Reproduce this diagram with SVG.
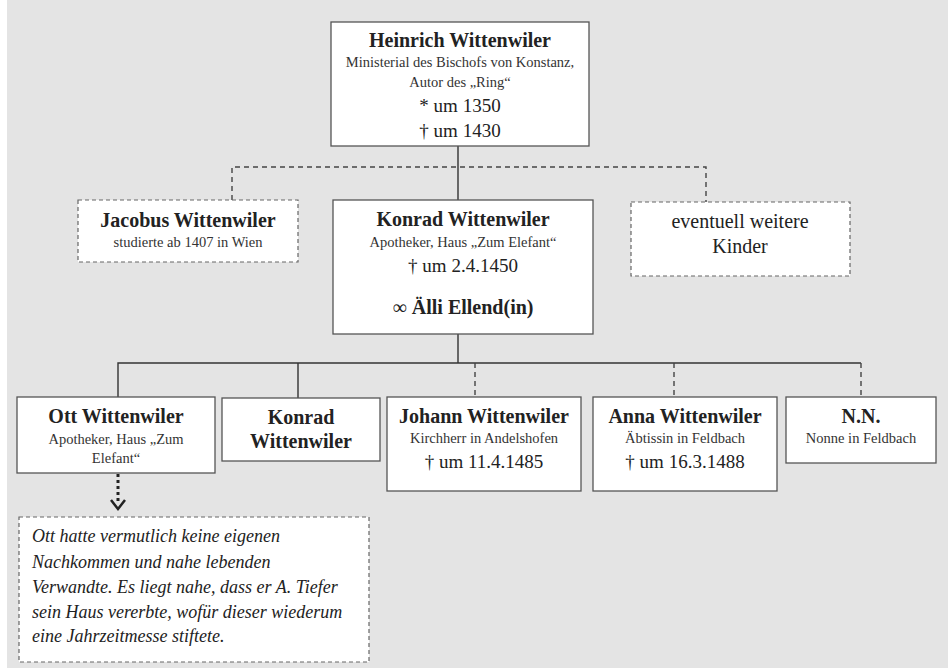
<svg xmlns="http://www.w3.org/2000/svg" width="948" height="668" viewBox="0 0 948 668">
<defs>
<style>
.box{fill:#fff;stroke:#555;stroke-width:1.3}
.dbox{fill:#fff;stroke:#666;stroke-width:1.2;stroke-dasharray:4 3}
.ln{fill:none;stroke:#333;stroke-width:1.4}
.dln{fill:none;stroke:#444;stroke-width:1.4;stroke-dasharray:5 4}
text{font-family:"Liberation Serif","Times New Roman",serif;fill:#222;text-anchor:middle}
.b{font-weight:bold;font-size:20px}
.s{font-size:14.5px;fill:#333}
.m{font-size:19px}
.it{font-style:italic;font-size:18px;text-anchor:start}
</style>
</defs>
<rect x="0" y="0" width="948" height="668" fill="#ffffff"/>
<rect x="7" y="0" width="941" height="668" fill="#e4e4e4"/>
<g id="connectors">
<path class="ln" d="M458 146V200"/>
<path class="dln" d="M232 200V167H706V202"/>
<path class="ln" d="M458 334V363M118 397V363H861M298 363V398"/>
<path class="dln" d="M475 363V397M674 363V397M861 363V397"/>
<path d="M118 474V503" fill="none" stroke="#222" stroke-width="3" stroke-dasharray="3 3"/>
<path d="M111 500L118 509L125 500" fill="none" stroke="#222" stroke-width="2.5"/>
</g>
<g id="heinrich">
<rect class="box" x="331" y="22" width="258" height="124"/>
<text class="b" x="460" y="47">Heinrich Wittenwiler</text>
<text class="s" x="460" y="67">Ministerial des Bischofs von Konstanz,</text>
<text class="s" x="460" y="87">Autor des „Ring“</text>
<text class="m" x="460" y="112">* um 1350</text>
<text class="m" x="460" y="137">† um 1430</text>
</g>
<g id="jacobus">
<rect class="dbox" x="78" y="200" width="220" height="62"/>
<text class="b" x="188" y="227">Jacobus Wittenwiler</text>
<text class="s" x="188" y="247">studierte ab 1407 in Wien</text>
</g>
<g id="konrad">
<rect class="box" x="333" y="200" width="260" height="134"/>
<text class="b" x="463" y="226">Konrad Wittenwiler</text>
<text class="s" x="463" y="247">Apotheker, Haus „Zum Elefant“</text>
<text class="m" x="463" y="272">† um 2.4.1450</text>
<text class="b" x="463" y="314"><tspan style="font-weight:normal">∞</tspan> Älli Ellend(in)</text>
</g>
<g id="weitere">
<rect class="dbox" x="631" y="202" width="219" height="74"/>
<text class="m" x="740" y="228" style="font-size:20px">eventuell weitere</text>
<text class="m" x="740" y="253" style="font-size:20px">Kinder</text>
</g>
<g id="ott">
<rect class="box" x="17" y="397" width="198" height="76"/>
<text class="b" x="116" y="423">Ott Wittenwiler</text>
<text class="s" x="116" y="444">Apotheker, Haus „Zum</text>
<text class="s" x="116" y="463">Elefant“</text>
</g>
<g id="konrad2">
<rect class="box" x="222" y="398" width="158" height="63"/>
<text class="b" x="301" y="424">Konrad</text>
<text class="b" x="301" y="448">Wittenwiler</text>
</g>
<g id="johann">
<rect class="box" x="387" y="397" width="194" height="94"/>
<text class="b" x="484" y="423">Johann Wittenwiler</text>
<text class="s" x="484" y="443">Kirchherr in Andelshofen</text>
<text class="m" x="484" y="468">† um 11.4.1485</text>
</g>
<g id="anna">
<rect class="box" x="593" y="397" width="184" height="94"/>
<text class="b" x="685" y="423">Anna Wittenwiler</text>
<text class="s" x="685" y="443">Äbtissin in Feldbach</text>
<text class="m" x="685" y="468">† um 16.3.1488</text>
</g>
<g id="nn">
<rect class="box" x="786" y="397" width="150" height="66"/>
<text class="b" x="861" y="423">N.N.</text>
<text class="s" x="861" y="443">Nonne in Feldbach</text>
</g>
<g id="note">
<rect class="dbox" x="19" y="517" width="350" height="145"/>
<text class="it" x="32" y="542">Ott hatte vermutlich keine eigenen</text>
<text class="it" x="32" y="568">Nachkommen und nahe lebenden</text>
<text class="it" x="32" y="593">Verwandte. Es liegt nahe, dass er A. Tiefer</text>
<text class="it" x="32" y="618">sein Haus vererbte, wofür dieser wiederum</text>
<text class="it" x="32" y="642">eine Jahrzeitmesse stiftete.</text>
</g>
</svg>
